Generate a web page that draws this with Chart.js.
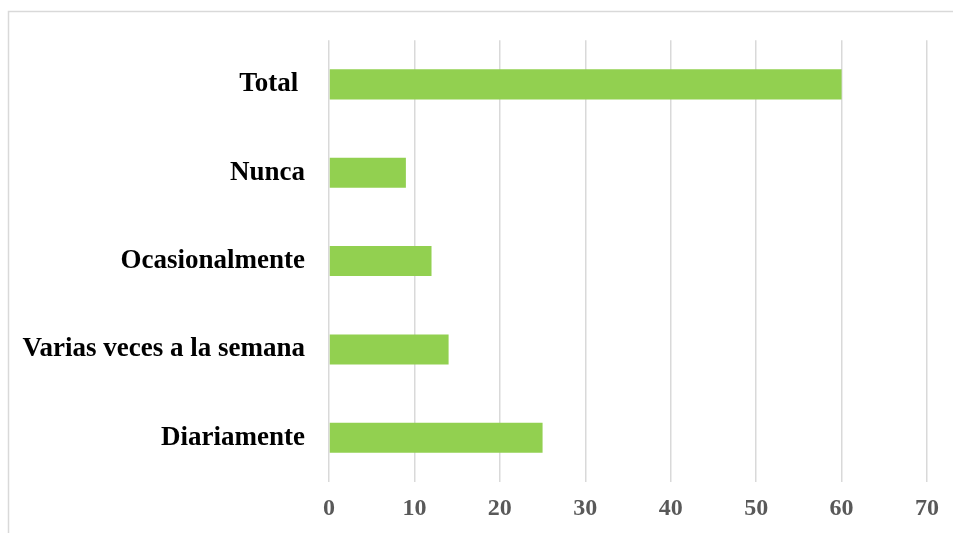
<!DOCTYPE html>
<html>
<head>
<meta charset="utf-8">
<script src="https://cdn.jsdelivr.net/npm/chart.js@4/dist/chart.umd.min.js"></script>
<style>
  html, body { margin: 0; padding: 0; background: #fff; }
  #wrap { width: 953px; height: 533px; }
</style>
</head>
<body>
<div id="wrap"><canvas id="barChart" width="953" height="533"></canvas></div>
<script>
const categories = ['Total ', 'Nunca', 'Ocasionalmente', 'Varias veces a la semana', 'Diariamente'];
const values = [60, 9, 12, 14, 25];
const xTicks = [0, 10, 20, 30, 40, 50, 60, 70];

// light frame round the chart (top and left edges visible)
const frame = {
  id: 'frame',
  beforeDraw(c) {
    const g = c.ctx;
    g.save();
    g.strokeStyle = '#d9d9d9';
    g.lineWidth = 1.5;
    g.beginPath();
    g.moveTo(8.5, 540);
    g.lineTo(8.5, 11.5);
    g.lineTo(960, 11.5);
    g.stroke();
    g.restore();
  }
};

const ctx = document.getElementById('barChart').getContext('2d');
new Chart(ctx, {
  type: 'bar',
  data: {
    labels: categories,
    datasets: [{
      data: values,
      backgroundColor: '#92D050',
      barPercentage: 0.68,
      categoryPercentage: 0.5
    }]
  },
  options: {
    indexAxis: 'y',
    responsive: false,
    animation: false,
    layout: { padding: { left: 8, top: 40, right: 26, bottom: 0 } },
    plugins: { legend: { display: false }, tooltip: { enabled: false } },
    scales: {
      x: {
        min: 0, max: 70,
        afterBuildTicks(s) { s.ticks = xTicks.map(v => ({ value: v })); },
        afterFit(s) { s.height = 51; },
        grid: { color: '#d9d9d9', lineWidth: 1.5, drawTicks: false },
        border: { display: false },
        ticks: {
          padding: 12,
          color: '#595959',
          font: { family: '"Liberation Serif", "Times New Roman", serif', size: 24, weight: 'bold' }
        }
      },
      y: {
        afterFit(s) { s.width = 321; },
        grid: { display: false, drawTicks: false },
        border: { display: false },
        ticks: {
          padding: 24,
          color: '#000',
          font: { family: '"Liberation Serif", "Times New Roman", serif', size: 27, weight: 'bold' }
        }
      }
    }
  },
  plugins: [frame]
});
</script>
</body>
</html>
